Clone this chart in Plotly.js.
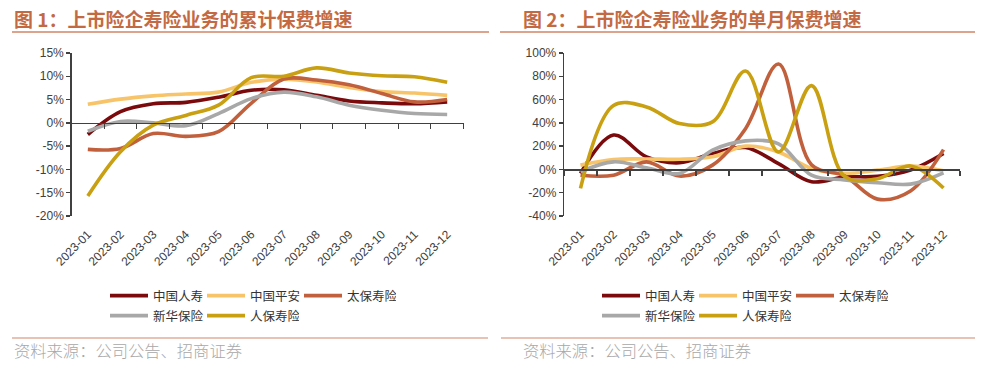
<!DOCTYPE html>
<html>
<head>
<meta charset="utf-8">
<script src="https://cdn.plot.ly/plotly-3.0.1.min.js"></script>
<style>
html,body{margin:0;padding:0;background:#fff;overflow:hidden;}
#chart{width:991px;height:375px;}
</style>
</head>
<body>
<div id="chart"></div>
<script>
// ---- data ----
const months = ["2023-01","2023-02","2023-03","2023-04","2023-05","2023-06","2023-07","2023-08","2023-09","2023-10","2023-11","2023-12"];
const seriesNames = ["中国人寿","中国平安","太保寿险","新华保险","人保寿险"];
const seriesColors = ["#7a0a0c","#f7c46a","#c1603c","#a8a8a8","#c9a012"];

// 累计保费增速 (%)
const cumChinaLife = [-2.5, 2.4, 4.1, 4.4, 5.5, 7.0, 7.1, 5.9, 4.7, 4.3, 4.1, 4.5];
const cumPingAn    = [4.0, 5.1, 5.8, 6.2, 6.6, 8.7, 9.4, 8.8, 7.6, 6.7, 6.4, 5.9];
const cumCPIC      = [-5.7, -5.5, -2.3, -2.9, -1.9, 4.2, 9.4, 9.2, 8.2, 6.3, 4.5, 5.0];
const cumNCI       = [-1.8, 0.3, 0.0, -0.6, 2.0, 5.2, 6.6, 5.6, 3.8, 2.7, 2.0, 1.8];
const cumPICC      = [-15.7, -6.2, -0.5, 1.6, 3.8, 9.7, 10.0, 11.8, 10.7, 10.1, 9.9, 8.7];

// 单月保费增速 (%)
const monChinaLife = [-3.5, 29.5, 10.8, 5.7, 13.7, 18.8, 5.0, -10.6, -6.5, -6.0, -0.6, 13.7];
const monPingAn    = [3.7, 8.5, 9.0, 8.7, 10.8, 20.0, 15.0, 0.8, -3.4, -0.6, 2.8, -1.2];
const monCPIC      = [-5.0, -5.0, 6.5, -5.7, 3.7, 35.0, 90.5, 4.0, -5.5, -25.5, -18.5, 17.0];
const monNCI       = [-2.0, 6.5, 1.4, -3.5, 16.5, 24.5, 22.0, -4.9, -9.0, -11.4, -12.6, -2.9];
const monPICC      = [-16.3, 55.0, 53.7, 39.4, 40.8, 84.5, 15.0, 72.0, -6.0, -8.0, 3.0, -16.0];

const cumTickVals = [-20, -15, -10, -5, 0, 5, 10, 15];
const monTickVals = [-40, -20, 0, 20, 40, 60, 80, 100];

const titleLeft = "图 1：上市险企寿险业务的累计保费增速";
const titleRight = "图 2：上市险企寿险业务的单月保费增速";
const sourceText = "资料来源：公司公告、招商证券";

// ---- layout helpers ----
const W = 991, H = 375;
const px = v => v / W;
const py = v => 1 - v / H;

const cumSeries = [cumChinaLife, cumPingAn, cumCPIC, cumNCI, cumPICC];
const monSeries = [monChinaLife, monPingAn, monCPIC, monNCI, monPICC];
const legendRowOf = [0, 0, 0, 1, 1];
const LW = 3.6;

const traces = [];
cumSeries.forEach((ys, i) => {
  traces.push({
    x: months, y: ys, xaxis: 'x', yaxis: 'y', type: 'scatter', mode: 'lines',
    name: seriesNames[i], line: {color: seriesColors[i], width: LW, shape: 'spline', smoothing: 1},
    legend: legendRowOf[i] === 0 ? 'legend' : 'legend2', hoverinfo: 'skip'
  });
});
monSeries.forEach((ys, i) => {
  traces.push({
    x: months, y: ys, xaxis: 'x2', yaxis: 'y2', type: 'scatter', mode: 'lines',
    name: seriesNames[i], line: {color: seriesColors[i], width: LW, shape: 'spline', smoothing: 1},
    legend: legendRowOf[i] === 0 ? 'legend3' : 'legend4', hoverinfo: 'skip'
  });
});
// carriers for the zero-line axes with boundary ticks
traces.push({x: months.map((_, i) => i), y: months.map(() => null), xaxis: 'x3', yaxis: 'y', mode: 'lines', showlegend: false, hoverinfo: 'skip'});
traces.push({x: months.map((_, i) => i), y: months.map(() => null), xaxis: 'x4', yaxis: 'y2', mode: 'lines', showlegend: false, hoverinfo: 'skip'});

const tickFont = {family: 'Liberation Sans, Arial, sans-serif', size: 12, color: '#404040'};
const cjk = 'Noto Sans CJK SC, sans-serif';
const boundaries = months.map((_, i) => i - 0.5).concat([months.length - 0.5]);

const yTop = 53, yBot = 216;
const leftX0 = 71.5, leftX1 = 463.5;
const rightX0 = 564, rightX1 = 960;

function yAxis(ticks) {
  return {
    domain: [py(yBot), py(yTop)], range: [ticks[0], ticks[ticks.length - 1]],
    tickvals: ticks, ticktext: ticks.map(v => v + '%'),
    showgrid: false, zeroline: false, showline: true, linecolor: '#404040', linewidth: 1.3,
    ticks: 'outside', ticklen: 4, tickcolor: '#404040', tickwidth: 1.3,
    tickfont: tickFont, fixedrange: true, automargin: false
  };
}
function labelXAxis(d0, d1, anchor) {
  return {
    domain: [px(d0), px(d1)], anchor: anchor, type: 'category', range: [-0.5, months.length - 0.5],
    showgrid: false, zeroline: false, showline: false, ticks: '', tickangle: -45,
    ticklabelstandoff: 8,
    tickfont: tickFont, fixedrange: true, automargin: false
  };
}
function zeroXAxis(overl, zeroY) {
  return {
    overlaying: overl, anchor: 'free', position: py(zeroY), type: 'linear',
    range: [-0.5, months.length - 0.5], tickvals: boundaries, showticklabels: false,
    showgrid: false, zeroline: false, showline: true, linecolor: '#404040', linewidth: 1.3,
    ticks: 'outside', ticklen: 5, tickcolor: '#404040', tickwidth: 1.3, fixedrange: true, automargin: false
  };
}
function legendAt(x, y) {
  return {
    orientation: 'h', x: px(x), y: py(y), xanchor: 'left', yanchor: 'middle',
    entrywidth: 44, entrywidthmode: 'pixels', itemwidth: 38,
    font: {family: cjk, size: 12.5, color: '#333'}, bgcolor: 'rgba(0,0,0,0)',
    tracegroupgap: 0, itemclick: false, itemdoubleclick: false
  };
}

const titleColor = '#c46a43';
const ruleColor = '#d28566';
const zeroAt = ticks => yBot - (0 - ticks[0]) / (ticks[ticks.length - 1] - ticks[0]) * (yBot - yTop);

const layout = {
  width: W, height: H, margin: {l: 0, r: 0, t: 0, b: 0, pad: 0, autoexpand: false},
  paper_bgcolor: '#fff', plot_bgcolor: 'rgba(0,0,0,0)', showlegend: true,
  xaxis: labelXAxis(leftX0, leftX1, 'y'),
  yaxis: Object.assign(yAxis(cumTickVals), {anchor: 'x'}),
  xaxis2: labelXAxis(rightX0, rightX1, 'y2'),
  yaxis2: Object.assign(yAxis(monTickVals), {anchor: 'x2'}),
  xaxis3: zeroXAxis('x', zeroAt(cumTickVals)),
  xaxis4: zeroXAxis('x2', zeroAt(monTickVals)),
  legend: legendAt(105, 296),
  legend2: legendAt(105, 316),
  legend3: legendAt(597, 296),
  legend4: legendAt(597, 316),
  annotations: [
    {text: titleLeft, xref: 'paper', yref: 'paper', x: px(12), y: py(18), xanchor: 'left', yanchor: 'middle', showarrow: false,
     font: {family: cjk, size: 19, color: titleColor, weight: 'bold'}},
    {text: titleRight, xref: 'paper', yref: 'paper', x: px(521), y: py(18), xanchor: 'left', yanchor: 'middle', showarrow: false,
     font: {family: cjk, size: 19, color: titleColor, weight: 'bold'}},
    {text: sourceText, xref: 'paper', yref: 'paper', x: px(12), y: py(350), xanchor: 'left', yanchor: 'middle', showarrow: false,
     font: {family: cjk, size: 16.3, color: '#a8a8a8', weight: 300}},
    {text: sourceText, xref: 'paper', yref: 'paper', x: px(521), y: py(350), xanchor: 'left', yanchor: 'middle', showarrow: false,
     font: {family: cjk, size: 16.3, color: '#a8a8a8', weight: 300}}
  ],
  shapes: [
    {type: 'line', xref: 'paper', yref: 'paper', x0: px(12), x1: px(489), y0: py(32), y1: py(32), line: {color: ruleColor, width: 1.5}},
    {type: 'line', xref: 'paper', yref: 'paper', x0: px(500), x1: px(975), y0: py(32), y1: py(32), line: {color: ruleColor, width: 1.5}},
    {type: 'line', xref: 'paper', yref: 'paper', x0: px(12), x1: px(488), y0: py(338), y1: py(338), line: {color: ruleColor, width: 1.2}},
    {type: 'line', xref: 'paper', yref: 'paper', x0: px(501), x1: px(975), y0: py(338), y1: py(338), line: {color: ruleColor, width: 1.2}}
  ]
};

Plotly.newPlot('chart', traces, layout, {displayModeBar: false, staticPlot: true});
</script>
</body>
</html>
